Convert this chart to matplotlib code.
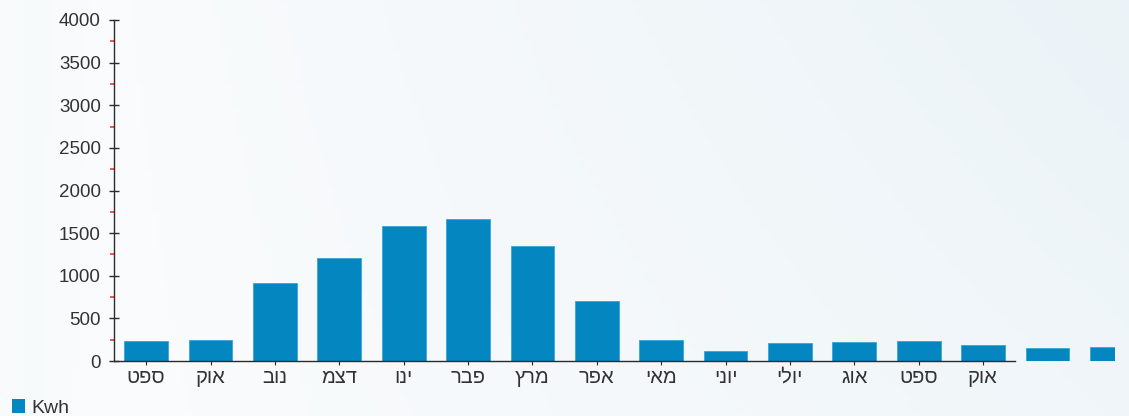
"""Monthly Kwh bar chart with Hebrew month labels."""

import matplotlib

matplotlib.use("Agg")
import matplotlib.pyplot as plt
import matplotlib.ticker as ticker
import numpy as np
from matplotlib.colors import LinearSegmentedColormap
from matplotlib.patches import Patch

plt.rcParams["font.family"] = ["Liberation Sans", "DejaVu Sans"]

# logical (right-to-left) Hebrew month abbreviations; last two bars carry no label
MONTHS = ["ספט", "אוק", "נוב", "דצמ", "ינו", "פבר", "מרץ", "אפר",
          "מאי", "יוני", "יולי", "אוג", "ספט", "אוק", "", ""]
KWH = [235, 250, 915, 1208, 1579, 1666, 1344, 707,
       250, 121, 211, 226, 235, 191, 150, 170]
Y_TICKS = [0, 500, 1000, 1500, 2000, 2500, 3000, 3500, 4000]
SERIES_NAME = "Kwh"

BAR_COLOR = "#0487c1"
AXIS_COLOR = "#2b2b2b"
TEXT_COLOR = "#333333"

W, H = 1129, 416
fig = plt.figure(figsize=(W / 100, H / 100), dpi=100)

# soft pale background wash
bg = fig.add_axes([0, 0, 1, 1], zorder=-10)
gx, gy = np.meshgrid(np.linspace(0, 1, 200), np.linspace(0, 1, 80))
wash = 0.55 * gx + 0.25 * (1 - gy) * gx + 0.15 * np.exp(-((gx - 0.02) ** 2) / 0.002)
cmap = LinearSegmentedColormap.from_list("wash", ["#fbfcfd", "#e9f2f7"])
bg.imshow(wash, cmap=cmap, aspect="auto", extent=[0, 1, 0, 1], vmin=0, vmax=0.9)
bg.set_axis_off()

left, right = 114 / W, 1115 / W
bottom, top = (H - 361) / H, (H - 20) / H
ax = fig.add_axes([left, bottom, right - left, top - bottom])
ax.patch.set_alpha(0)

x = np.arange(len(KWH))
ax.bar(x, KWH, width=0.68, color=BAR_COLOR, edgecolor="#3aa3d3", linewidth=0.6,
       zorder=2)

n_labelled = sum(1 for m in MONTHS if m)
ax.set_xlim(-0.5, 15.05)
ax.set_ylim(0, 4000)

for side in ("top", "right"):
    ax.spines[side].set_visible(False)
ax.spines["bottom"].set_bounds(-0.5, n_labelled - 0.5)
ax.spines["left"].set_color(AXIS_COLOR)
ax.spines["bottom"].set_color(AXIS_COLOR)
ax.spines["left"].set_linewidth(1.0)
ax.spines["bottom"].set_linewidth(1.0)

ax.set_xticks(x[:n_labelled])
# matplotlib lays glyphs left-to-right, so reverse for visual RTL order
ax.set_xticklabels([m[::-1] for m in MONTHS[:n_labelled]])
ax.tick_params(axis="x", length=3, width=0.8, color=AXIS_COLOR,
               labelsize=14.5, labelcolor=TEXT_COLOR, pad=2)

ax.yaxis.set_major_locator(ticker.FixedLocator(Y_TICKS))
ax.yaxis.set_minor_locator(ticker.MultipleLocator(250))
ax.tick_params(axis="y", which="major", direction="inout", length=7, width=1.0,
               color=AXIS_COLOR, labelsize=13.5, labelcolor=TEXT_COLOR, pad=6)
ax.tick_params(axis="y", which="minor", direction="out", length=3, width=1.2,
               color="#f03a30")

fig.legend(handles=[Patch(facecolor=BAR_COLOR, label=SERIES_NAME)],
           loc="lower left", bbox_to_anchor=(0.0, -0.03), frameon=False,
           handlelength=0.7, handleheight=0.7, handletextpad=0.3,
           fontsize=14, labelcolor=TEXT_COLOR, borderaxespad=0.2)

fig.savefig("out.png", dpi=100)
